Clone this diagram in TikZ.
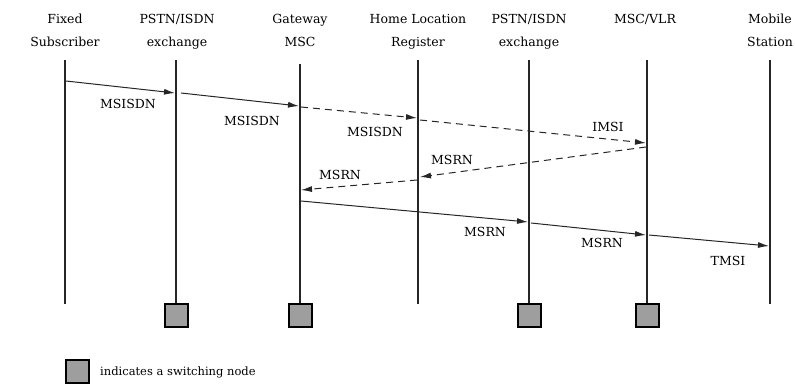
\documentclass[tikz,border=0pt]{standalone}
\usepackage{fontspec}
\setmainfont{DejaVu Serif}
\usetikzlibrary{arrows.meta}
\begin{document}
\begin{tikzpicture}[x=1pt,y=-1pt,
 life/.style={line width=2.2pt, draw=black!85},
 msg/.style={line width=1pt, draw=black!85, -{Latex[length=11pt,width=6pt]}},
 dmsg/.style={msg, dash pattern=on 7pt off 5pt},
 lbl/.style={font=\fontsize{12.5}{16}\selectfont, inner sep=0pt},
 hdr/.style={font=\fontsize{12.5}{23}\selectfont, align=center, inner sep=0pt, anchor=north},
 sw/.style={draw=black, line width=2pt, fill=black!38, minimum size=23pt, inner sep=0pt}]
\useasboundingbox (0,0) rectangle (795,383);
% headers
\node[hdr] (h1) at (65,14) {Fixed\\Subscriber};
\node[hdr] (h2) at (177,14) {PSTN/ISDN\\exchange};
\node[hdr] (h3) at (300,14) {Gateway\\MSC};
\node[hdr] (h4) at (418,14) {Home Location\\Register};
\node[hdr] (h5) at (529,14) {PSTN/ISDN\\exchange};
\node[hdr] (h6) at (645,14) {MSC/VLR};
\node[hdr] (h7) at (770,14) {Mobile\\Station};
% lifeline tops/bottoms
\coordinate (t1) at (65,60);  \coordinate (e1) at (65,304);
\coordinate (t2) at (176,60); \node[sw] (b2) at (176,315) {};
\coordinate (t3) at (300,64); \node[sw] (b3) at (300,315) {};
\coordinate (t4) at (418,60); \coordinate (e4) at (418,304);
\coordinate (t5) at (529,60); \node[sw] (b5) at (529,315) {};
\coordinate (t6) at (647,60); \node[sw] (b6) at (647,315) {};
\coordinate (t7) at (770,60); \coordinate (e7) at (770,304);
\draw[life] (t1) -- (e1);
\draw[life] (t2) -- (b2.north);
\draw[life] (t3) -- (b3.north);
\draw[life] (t4) -- (e4);
\draw[life] (t5) -- (b5.north);
\draw[life] (t6) -- (b6.north);
\draw[life] (t7) -- (e7);
% message end points
\coordinate (m1a) at (66,81);   \coordinate (m1b) at (175,93);
\coordinate (m2a) at (181,93);  \coordinate (m2b) at (299,106);
\coordinate (m3a) at (301,107); \coordinate (m3b) at (417,118);
\coordinate (m4a) at (420,120); \coordinate (m4b) at (646,143);
\coordinate (m5a) at (646,147); \coordinate (m5b) at (420,177);
\coordinate (m6a) at (417,180); \coordinate (m6b) at (301,190);
\coordinate (m7a) at (301,201); \coordinate (m7b) at (528,222);
\coordinate (m8a) at (531,223); \coordinate (m8b) at (646,235);
\coordinate (m9a) at (649,235); \coordinate (m9b) at (769,246);
\draw[msg] (m1a) -- (m1b);
\draw[msg] (m2a) -- (m2b);
\draw[dmsg] (m3a) -- (m3b);
\draw[dmsg] (m4a) -- (m4b);
\draw[dmsg] (m5a) -- (m5b);
\draw[dmsg] (m6a) -- (m6b);
\draw[msg] (m7a) -- (m7b);
\draw[msg] (m8a) -- (m8b);
\draw[msg] (m9a) -- (m9b);
% labels
\node[lbl] (l1) at (128,104) {MSISDN};
\node[lbl] (l2) at (252,121) {MSISDN};
\node[lbl] (l3) at (375,132) {MSISDN};
\node[lbl] (l4) at (608,127) {IMSI};
\node[lbl] (l5) at (452,160) {MSRN};
\node[lbl] (l6) at (340,175) {MSRN};
\node[lbl] (l7) at (485,232) {MSRN};
\node[lbl] (l8) at (602,243) {MSRN};
\node[lbl] (l9) at (728,261) {TMSI};
% legend
\node[sw] (leg) at (77,371) {};
\node[font=\fontsize{11.5}{14}\selectfont, anchor=west, inner sep=0pt] (legt) at (100,372) {indicates a switching node};
\end{tikzpicture}
\end{document}
